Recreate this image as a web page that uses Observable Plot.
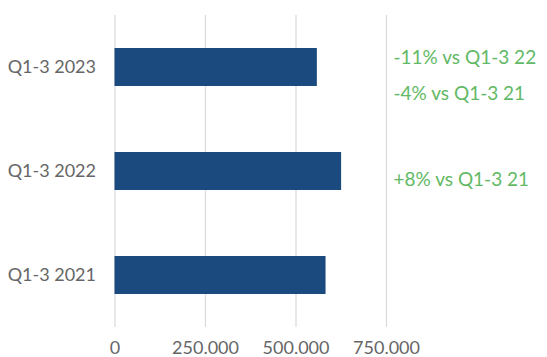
<!DOCTYPE html>
<html>
<head>
<meta charset="utf-8">
<script src="https://cdn.jsdelivr.net/npm/d3@7"></script>
<script src="https://cdn.jsdelivr.net/npm/@observablehq/plot@0.6"></script>
<style>
  html, body { margin: 0; padding: 0; background: #ffffff; }
</style>
</head>
<body>
<div id="chart"></div>
<script>
const categories = ["Q1-3 2021", "Q1-3 2022", "Q1-3 2023"];
const values = [583000, 626000, 559000];
const xTicks = [0, 250000, 500000, 750000];
const xTickLabels = ["0", "250.000", "500.000", "750.000"];
const noteCategories = ["Q1-3 2023", "Q1-3 2022"];
const noteTexts = ["-11% vs Q1-3 22\n-4% vs Q1-3 21", "+8% vs Q1-3 21"];

const bars = categories.map((c, i) => ({category: c, value: values[i]}));
const notes = noteCategories.map((c, i) => ({category: c, text: noteTexts[i]}));

const chart = Plot.plot({
  width: 547,
  height: 357,
  marginLeft: 114.5,
  marginRight: 161,
  marginTop: 15,
  marginBottom: 30,
  style: {fontFamily: "Lato, 'Open Sans', sans-serif", fontSize: "18px", color: "#666666", background: "#ffffff"},
  x: {domain: [0, 750000], label: null},
  y: {domain: [...categories].reverse(), paddingInner: 0.635, paddingOuter: 0.3175, label: null},
  marks: [
    Plot.gridX(xTicks, {stroke: "#d9d9d9", strokeOpacity: 1, strokeWidth: 1.2}),
    Plot.barX(bars, {x: "value", y: "category", fill: "#1a4a7e"}),
    Plot.axisX({ticks: xTicks, tickSize: 0, tickPadding: 14, label: null,
                tickFormat: d => xTickLabels[xTicks.indexOf(d)]}),
    Plot.axisY({tickSize: 0, tickPadding: 19, label: null}),
    Plot.text(notes, {y: "category", text: "text", frameAnchor: "right", textAnchor: "start",
                      dx: 7, dy: 2.5, fill: "#62b965", fontSize: 19, lineHeight: 1.9})
  ]
});
document.getElementById("chart").appendChild(chart);
</script>
</body>
</html>
